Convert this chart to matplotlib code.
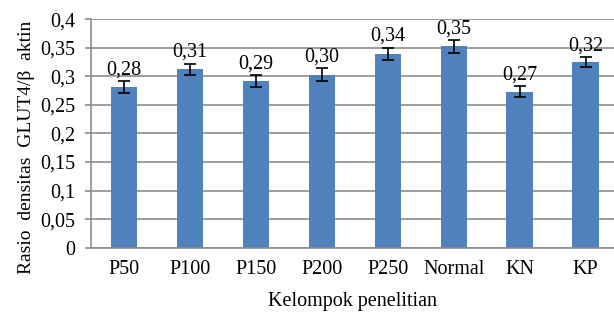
import matplotlib
matplotlib.use('Agg')
import matplotlib.pyplot as plt
from matplotlib.ticker import FuncFormatter

groups = ['P50', 'P100', 'P150', 'P200', 'P250', 'Normal', 'KN', 'KP']
ratios = [0.281, 0.312, 0.292, 0.303, 0.339, 0.352, 0.273, 0.325]
errors = [0.011, 0.010, 0.010, 0.011, 0.011, 0.011, 0.010, 0.009]
value_labels = ['0,28', '0,31', '0,29', '0,30', '0,34', '0,35', '0,27', '0,32']
y_ticks = [0, 0.05, 0.1, 0.15, 0.2, 0.25, 0.3, 0.35, 0.4]

plt.rcParams['font.family'] = ['Liberation Serif', 'DejaVu Serif']

fig = plt.figure(figsize=(6.14, 3.13), dpi=100)
ax = fig.add_axes([0.1482, 0.2086, 0.8518, 0.7305])

x = range(len(groups))
ax.bar(x, ratios, width=0.40, color='#4F81BD', zorder=2)
ax.errorbar(x, ratios, yerr=errors, fmt='none', ecolor='black',
            elinewidth=1.2, capsize=4, capthick=1.2, zorder=3)

for i, (v, e, lab) in enumerate(zip(ratios, errors, value_labels)):
    ax.text(i, v + e + 0.003, lab, ha='center', va='bottom', fontsize=14.5)

ax.set_xlim(-0.5, 7.43)
ax.set_ylim(0, 0.4)
ax.set_yticks(y_ticks)
ax.yaxis.set_major_formatter(FuncFormatter(lambda v, p: ('%g' % v).replace('.', ',')))
ax.set_xticks(list(x))
ax.set_xticklabels(groups)
ax.tick_params(axis='y', labelsize=14.5, length=4, width=1.2, color='#8c8c8c', pad=7)
ax.tick_params(axis='x', labelsize=14.5, length=0, pad=9)

ax.grid(axis='y', color='#8c8c8c', linewidth=1.2, zorder=0)
ax.set_axisbelow(True)
for side in ['top', 'right']:
    ax.spines[side].set_visible(False)
ax.spines['left'].set_color('#8c8c8c')
ax.spines['bottom'].set_color('#8c8c8c')
ax.spines['left'].set_linewidth(1.2)
ax.spines['bottom'].set_linewidth(1.2)

ax.set_xlabel('Kelompok penelitian', fontsize=14.5, labelpad=9)
ax.set_ylabel('Rasio  densitas  GLUT4/β  aktin', fontsize=14, labelpad=4, y=0.44)

fig.savefig('out.png', dpi=100)
